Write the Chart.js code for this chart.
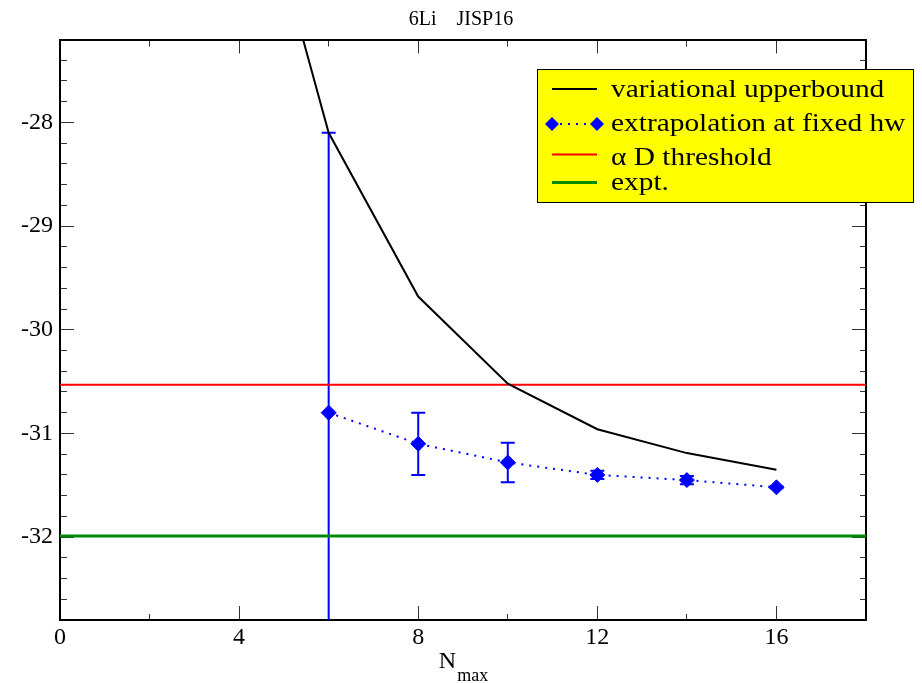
<!DOCTYPE html>
<html>
<head>
<meta charset="utf-8">
<script src="https://cdn.jsdelivr.net/npm/chart.js@4/dist/chart.umd.min.js"></script>
<style>
  html, body { margin: 0; padding: 0; background: #fff; }
  #wrap { width: 922px; height: 683px; }
</style>
</head>
<body>
<div id="wrap"><canvas id="li6_Chart" width="922" height="683"></canvas></div>
<script>
// values
const nmax = [4, 6, 8, 10, 12, 14, 16];
const upperBound = [-24.95, -28.10, -29.68, -30.52, -30.96, -31.19, -31.35];

const extrapNmax = [6, 8, 10, 12, 14, 16];
const extrapValue = [-30.80, -31.10, -31.28, -31.40, -31.45, -31.52];
const extrapError = [2.70, 0.30, 0.19, 0.04, 0.04, 0.01];

const alphaDThreshold = -30.53;
const expt = -31.99;

const xRange = [0, 18];
const yRange = [-32.8, -27.2];
const xTickLabels = [0, 4, 8, 12, 16];
const yTickLabels = [-28, -29, -30, -31, -32];
const xTicks = [0, 2, 4, 6, 8, 10, 12, 14, 16, 18];
const yTicks = [];
for (let v = -32.8; v <= -27.19; v += 0.2) yTicks.push(Math.round(v * 10) / 10);

const FONT = '"Liberation Serif", "Times New Roman", serif';

document.addEventListener("DOMContentLoaded", function() {

    // inward tick marks: majors 14px, minors 7px (dashed so only the half at the frame shows)
    function tickGrid(majors, innerFirst) {
        const isMajor = c => c.tick && majors.includes(c.tick.value);
        return {
            drawOnChartArea: false,
            tickLength: -14,
            tickColor: '#333',
            tickWidth: 1,
            tickBorderDash: c => isMajor(c) ? [] : (innerFirst ? [7, 7] : [7, 100]),
            tickBorderDashOffset: c => isMajor(c) ? 0 : (innerFirst ? 7 : 0)
        };
    }

    const tickFont = { family: FONT, size: 24 };
    const frame = { display: true, color: '#000', width: 2 };

    const errorBars = {
        id: 'errorBars',
        beforeDatasetsDraw(chart) {
            const { ctx, chartArea, scales: { x, y } } = chart;
            ctx.save();
            ctx.beginPath();
            ctx.rect(chartArea.left, chartArea.top, chartArea.width, chartArea.height);
            ctx.clip();
            ctx.strokeStyle = '#0000ff';
            ctx.lineWidth = 2;
            extrapNmax.forEach((n, i) => {
                const px = x.getPixelForValue(n);
                const top = y.getPixelForValue(extrapValue[i] + extrapError[i]);
                const bot = y.getPixelForValue(extrapValue[i] - extrapError[i]);
                ctx.beginPath();
                ctx.moveTo(px, top); ctx.lineTo(px, bot);
                ctx.moveTo(px - 7, top); ctx.lineTo(px + 7, top);
                ctx.moveTo(px - 7, bot); ctx.lineTo(px + 7, bot);
                ctx.stroke();
            });
            ctx.restore();
        }
    };

    function diamond(ctx, x, y, r) {
        ctx.beginPath();
        ctx.moveTo(x - r, y); ctx.lineTo(x, y - r);
        ctx.lineTo(x + r, y); ctx.lineTo(x, y + r);
        ctx.closePath();
        ctx.fill();
    }

    // yellow boxed legend + N_max axis title
    const boxLegend = {
        id: 'boxLegend',
        afterDraw(chart) {
            const ctx = chart.ctx;
            const rows = [{ line: 89, text: 97 }, { line: 124, text: 131 },
                          { line: 154.5, text: 165 }, { line: 182.5, text: 190 }];
            ctx.save();
            ctx.fillStyle = '#ffff00';
            ctx.fillRect(537, 69.5, 376, 133);
            ctx.strokeStyle = '#000';
            ctx.lineWidth = 1;
            ctx.strokeRect(537.5, 69.5, 376, 133);

            chart.data.datasets.forEach((ds, i) => {
                const r = rows[i];
                ctx.strokeStyle = ds.borderColor;
                ctx.lineWidth = ds.borderWidth;
                ctx.setLineDash(ds.borderDash || []);
                ctx.beginPath();
                ctx.moveTo(552, r.line);
                ctx.lineTo(597, r.line);
                ctx.stroke();
                ctx.setLineDash([]);
                if (ds.pointRadius > 0) {
                    ctx.fillStyle = ds.pointBackgroundColor;
                    diamond(ctx, 552, r.line, 7);
                    diamond(ctx, 597, r.line, 7);
                }
                // legend text in the original is drawn a little wide
                ctx.save();
                ctx.translate(611, r.text);
                ctx.scale(1.13, 1);
                ctx.fillStyle = '#000';
                ctx.font = '26px ' + FONT;
                ctx.textBaseline = 'alphabetic';
                ctx.fillText(ds.label, 0, 0);
                ctx.restore();
            });

            // x axis title with subscript
            const cx = (chart.chartArea.left + chart.chartArea.right) / 2;
            ctx.font = '24px ' + FONT;
            const wN = ctx.measureText('N').width;
            ctx.font = '18px ' + FONT;
            const wSub = ctx.measureText('max').width;
            const x0 = cx - (wN + wSub) / 2;
            ctx.fillStyle = '#000';
            ctx.font = '24px ' + FONT;
            ctx.fillText('N', x0, 668);
            ctx.font = '18px ' + FONT;
            ctx.fillText('max', x0 + wN + 1, 681);
            ctx.restore();
        }
    };

    const ctx = document.getElementById('li6_Chart').getContext('2d');
    const li6_Chart = new Chart(ctx, {
        type: 'line',
        data: {
            datasets: [
            {
                label: 'variational upperbound',
                data: nmax.map((n, i) => ({ x: n, y: upperBound[i] })),
                borderColor: '#000000',
                borderWidth: 2,
                pointRadius: 0,
                fill: false,
                tension: 0
            },
            {
                label: 'extrapolation at fixed hw',
                data: extrapNmax.map((n, i) => ({ x: n, y: extrapValue[i] })),
                borderColor: '#0000ff',
                borderWidth: 2,
                borderDash: [2, 6],
                pointStyle: 'rectRot',
                pointRadius: 7.5,
                pointBorderWidth: 1,
                pointBackgroundColor: '#0000ff',
                pointBorderColor: '#0000ff',
                fill: false,
                tension: 0
            },
            {
                label: 'α D threshold',
                data: xRange.map(n => ({ x: n, y: alphaDThreshold })),
                borderColor: '#ff0000',
                borderWidth: 2,
                pointRadius: 0,
                fill: false
            },
            {
                label: 'expt.',
                data: xRange.map(n => ({ x: n, y: expt })),
                borderColor: '#008b00',
                borderWidth: 3,
                pointRadius: 0,
                fill: false
            }]
        },
        options: {
            responsive: false,
            animation: false,
            layout: { padding: 0 },
            plugins: {
                legend: { display: false },
                tooltip: { enabled: false },
                title: {
                    display: true,
                    text: '6Li    JISP16',
                    color: '#000',
                    font: { family: FONT, size: 20, weight: 'normal' },
                    padding: { top: 8, bottom: 7.5 }
                }
            },
            scales: {
                x: {
                    type: 'linear', position: 'bottom',
                    min: xRange[0], max: xRange[1],
                    afterBuildTicks: s => { s.ticks = xTicks.map(v => ({ value: v })); },
                    afterFit: s => { s.height = 63; },
                    ticks: {
                        callback: v => xTickLabels.includes(v) ? v : '',
                        autoSkip: false, maxRotation: 0,
                        color: '#000', font: tickFont, padding: 17.5
                    },
                    grid: tickGrid(xTickLabels, false),
                    border: frame
                },
                x2: {
                    type: 'linear', position: 'top',
                    min: xRange[0], max: xRange[1],
                    afterBuildTicks: s => { s.ticks = xTicks.map(v => ({ value: v })); },
                    afterFit: s => { s.height = 0; },
                    ticks: { display: false },
                    grid: tickGrid(xTickLabels, true),
                    border: frame
                },
                y: {
                    type: 'linear', position: 'left',
                    min: yRange[0], max: yRange[1],
                    afterBuildTicks: s => { s.ticks = yTicks.map(v => ({ value: v })); },
                    afterFit: s => { s.width = 60; },
                    ticks: {
                        callback: v => yTickLabels.includes(v) ? v : '',
                        autoSkip: false,
                        color: '#000', font: tickFont, padding: 21
                    },
                    grid: tickGrid(yTickLabels, true),
                    border: frame
                },
                y2: {
                    type: 'linear', position: 'right',
                    min: yRange[0], max: yRange[1],
                    afterBuildTicks: s => { s.ticks = yTicks.map(v => ({ value: v })); },
                    afterFit: s => { s.width = 56; },
                    ticks: { display: false },
                    grid: tickGrid(yTickLabels, false),
                    border: frame
                }
            }
        },
        plugins: [errorBars, boxLegend]
    });

});
</script>
</body>
</html>
